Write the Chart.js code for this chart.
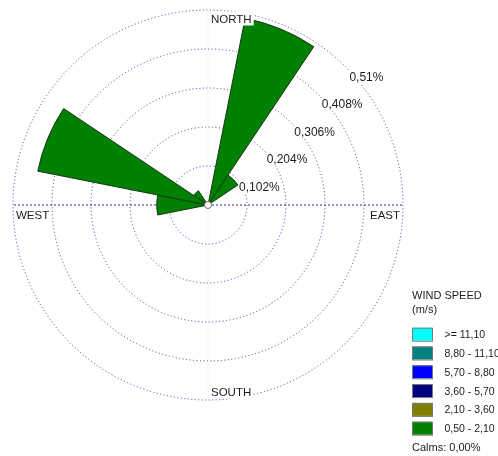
<!DOCTYPE html>
<html>
<head>
<meta charset="utf-8">
<script src="https://cdn.jsdelivr.net/npm/chart.js@4.4.0/dist/chart.umd.min.js"></script>
<style>
  html, body { margin: 0; padding: 0; background: #fff; }
</style>
</head>
<body>
<canvas id="roseChart" width="498" height="456"></canvas>
<script>
var directions = ['N', 'NNE', 'NE', 'ENE', 'E', 'ESE', 'SE', 'SSE', 'S', 'SSW', 'SW', 'WSW', 'W', 'WNW', 'NW', 'NNW'];
// frequency (%) of the 0,50 - 2,10 m/s class, per direction
var freqLow = [0, 0.498, 0.094, 0, 0, 0, 0, 0, 0, 0, 0, 0, 0.134, 0.454, 0.045, 0];
var ringValues = [0.102, 0.204, 0.306, 0.408, 0.51];
var ringLabels = ['0,102%', '0,204%', '0,306%', '0,408%', '0,51%'];
var compass = ['NORTH', 'EAST', 'SOUTH', 'WEST'];
var speedBins = ['>= 11,10', '8,80 - 11,10', '5,70 - 8,80', '3,60 - 5,70', '2,10 - 3,60', '0,50 - 2,10'];
var binColors = ['#00ffff', '#008080', '#0000ff', '#000080', '#808000', '#008000'];
var calmsText = 'Calms: 0,00%';

var FONT = '"Liberation Sans", Arial, sans-serif';
var TEXT = '#1c1c1c';

/** labels, centre disc and legend **/
var roseDecor = {
  id: 'roseDecor',
  afterDatasetsDraw: function (chart) {
    var ctx = chart.ctx;
    var s = chart.scales.r;
    var xc = s.xCenter, yc = s.yCenter, R = s.drawingArea;
    ctx.save();

    // calms disc
    ctx.beginPath();
    ctx.arc(xc, yc, 3.5, 0, Math.PI * 2);
    ctx.fillStyle = '#fff';
    ctx.fill();
    ctx.lineWidth = 1;
    ctx.strokeStyle = '#707070';
    ctx.stroke();

    // ring values along the NE diagonal
    ctx.font = '12px ' + FONT;
    ctx.textAlign = 'left';
    ctx.textBaseline = 'alphabetic';
    ringValues.forEach(function (v, i) {
      var r = s.getDistanceFromCenterForValue(v);
      var x = xc + r * Math.SQRT1_2 + 3.5;
      var y = yc - r * Math.SQRT1_2 + 13.6;
      var w = ctx.measureText(ringLabels[i]).width;
      ctx.fillStyle = '#fff';
      ctx.fillRect(x - 1, y - 10, w + 2, 12);
      ctx.fillStyle = TEXT;
      ctx.fillText(ringLabels[i], x, y);
    });

    // compass names
    ctx.font = '11.5px ' + FONT;
    var spots = [
      {x: xc + 3, y: yc - R + 12.5, a: 'left'},
      {x: xc + R - 3, y: yc + 13.5, a: 'right'},
      {x: xc + 3, y: yc + R - 4, a: 'left'},
      {x: xc - R + 3, y: yc + 13.5, a: 'left'}
    ];
    compass.forEach(function (name, i) {
      var p = spots[i];
      var w = ctx.measureText(name).width;
      var left = p.a === 'left' ? p.x : p.x - w;
      ctx.fillStyle = '#fff';
      ctx.fillRect(left - 2, p.y - 11, w + 4, 14);
      ctx.fillStyle = TEXT;
      ctx.textAlign = p.a;
      ctx.fillText(name, p.x, p.y);
    });

    // wind speed legend
    var lx = chart.chartArea.right + 9;
    ctx.textAlign = 'left';
    ctx.fillStyle = TEXT;
    ctx.font = '11px ' + FONT;
    ctx.fillText('WIND SPEED', lx, 298.5);
    ctx.fillText('(m/s)', lx, 313);
    ctx.font = '10.5px ' + FONT;
    speedBins.forEach(function (lab, i) {
      var by = 327.7 + i * 18.8;
      ctx.fillStyle = binColors[i];
      ctx.fillRect(lx, by, 20, 13);
      ctx.strokeStyle = '#7a7a7a';
      ctx.lineWidth = 1;
      ctx.strokeRect(lx + 0.5, by + 0.5, 20, 13);
      ctx.fillStyle = TEXT;
      ctx.fillText(lab, lx + 32.5, by + 10.5);
    });
    ctx.font = '11px ' + FONT;
    ctx.fillText(calmsText, lx, 451);
    ctx.restore();
  }
};

var ctx = document.getElementById('roseChart').getContext('2d');
new Chart(ctx, {
  type: 'polarArea',
  data: {
    labels: directions,
    datasets: [{
      label: speedBins[5],
      data: freqLow,
      rAxisID: 'r',
      backgroundColor: binColors[5],
      borderColor: '#163816',
      borderWidth: 1
    }]
  },
  options: {
    responsive: false,
    animation: false,
    layout: { padding: { left: 13, top: 10, right: 95, bottom: 56 } },
    plugins: { legend: { display: false }, tooltip: { enabled: false } },
    scales: {
      r: {
        axis: 'r',
        min: 0,
        max: 0.51,
        startAngle: -11.25,
        afterBuildTicks: function (scale) {
          scale.ticks = [0].concat(ringValues).map(function (v) { return {value: v}; });
        },
        ticks: { display: false },
        pointLabels: { display: false },
        angleLines: { display: false },
        grid: { circular: true, color: 'rgba(40,40,170,0.9)', lineWidth: 1 },
        border: { dash: [1, 2.5] }
      },
      // cardinal cross (N-S faint, W-E dotted blue)
      r2: {
        type: 'radialLinear',
        axis: 'r',
        min: 0,
        max: 0.51,
        startAngle: 0,
        ticks: { display: false },
        pointLabels: { display: false },
        grid: { display: false },
        angleLines: {
          display: true,
          color: function (c) {
            if (c.index === 4 || c.index === 12) return 'rgba(30,30,160,0.95)';
            if (c.index === 0 || c.index === 8) return 'rgba(195,195,220,0.55)';
            return 'rgba(0,0,0,0)';
          },
          lineWidth: function (c) { return c.index % 4 === 0 ? 1 : 0; },
          borderDash: function (c) { return c.index % 8 === 4 ? [2, 2] : [1, 2]; }
        }
      }
    }
  },
  plugins: [roseDecor]
});
</script>
</body>
</html>
